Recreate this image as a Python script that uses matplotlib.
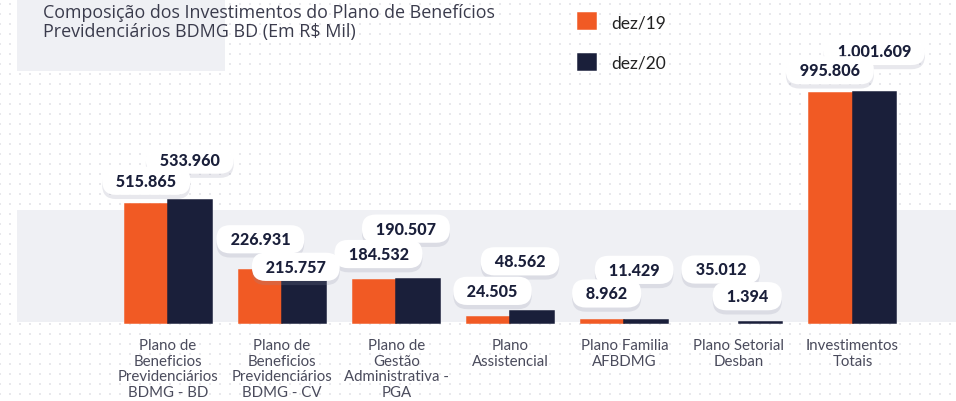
import numpy as np
import matplotlib
matplotlib.use("Agg")
import matplotlib.pyplot as plt
from matplotlib.patches import Rectangle
import matplotlib.patheffects as pe

# ---------------- data ----------------
categories = [
    "Plano de\nBeneficios\nPrevidenciários\nBDMG - BD",
    "Plano de\nBeneficios\nPrevidenciários\nBDMG - CV",
    "Plano de\nGestão\nAdministrativa -\nPGA",
    "Plano\nAssistencial",
    "Plano Familia\nAFBDMG",
    "Plano Setorial\nDesban",
    "Investimentos\nTotais",
]
series_names = ["dez/19", "dez/20"]
dez19 = [515865, 226931, 184532, 24505, 8962, 0, 995806]
dez20 = [533960, 215757, 190507, 48562, 11429, 1394, 1001609]
labels19 = ["515.865", "226.931", "184.532", "24.505", "8.962", "35.012", "995.806"]
labels20 = ["533.960", "215.757", "190.507", "48.562", "11.429", "1.394", "1.001.609"]

title = "Composição dos Investimentos do Plano de Benefícios\nPrevidenciários BDMG BD (Em R$ Mil)"

# ---------------- style ----------------
ORANGE = "#F15A24"
NAVY = "#1A1F3A"
BAND = "#EFF0F4"
W, H = 956, 402
x0_px, step_px = 168.0, 114.1
base_px, k_px = 323.5, 0.2302 / 1000.0   # pixels per unit value
bar_w = 43.5 / step_px

# label offsets (pixels) relative to bar top
off19 = [(0, 23), (0, 31), (4, 26), (4, 26), (4, 27), (4, 53), (-1, 23)]
off20 = [(0, 40), (-8, 6), (-12, 50), (-12, 50), (-12, 50), (-13, 26), (0, 41)]

fig = plt.figure(figsize=(W / 100, H / 100), dpi=100)
fig.patch.set_facecolor("white")

# background decorations in pixel coordinates
bg = fig.add_axes([0, 0, 1, 1])
bg.set_xlim(0, W)
bg.set_ylim(H, 0)
bg.axis("off")
gx, gy = np.meshgrid(np.arange(0, W, 10), np.arange(5, H, 10))
bg.scatter(gx.ravel(), gy.ravel(), s=1.4, marker="s", color="#E8E8EC", linewidths=0, zorder=1)
bg.add_patch(Rectangle((17, 211), W - 17, 112, color=BAND, zorder=2, lw=0))
bg.add_patch(Rectangle((17, 0), 208, 72, color=BAND, zorder=2, lw=0))
bg.text(43, 3.5, title, ha="left", va="top", fontsize=12.9, family="Open Sans",
        color="#3A3B4C", linespacing=1.12, zorder=3)

# main axes
ax = fig.add_axes([0, 0, 1, 1])
ax.patch.set_alpha(0)
ax.set_xlim(-x0_px / step_px, (W - x0_px) / step_px)
ax.set_ylim(-(H - base_px) / k_px, base_px / k_px)
for s in ax.spines.values():
    s.set_visible(False)
ax.spines["bottom"].set_position(("data", 0))
ax.set_yticks([])

x = np.arange(len(categories))
b1 = ax.bar(x - bar_w / 2, dez19, width=bar_w, color=ORANGE, edgecolor=ORANGE,
            linewidth=1.1, zorder=3, label=series_names[0])
b2 = ax.bar(x + bar_w / 2, dez20, width=bar_w, color=NAVY, edgecolor=NAVY,
            linewidth=1.1, zorder=3, label=series_names[1])
for b, v in zip(b1, dez19):
    if v == 0:
        b.set_linewidth(0)

ax.set_xticks(x)
ax.set_xticklabels(categories, fontsize=10.8, family="Lato", color="#4A4B5C")
for t in ax.get_xticklabels():
    t.set_linespacing(1.16)
ax.tick_params(axis="x", length=0, pad=11)


def put_labels(xs, vals, texts, offs):
    for xi, v, t, (dx, dy) in zip(xs, vals, texts, offs):
        up = v * k_px + dy
        a = ax.annotate("  " + t + "  ", xy=(xi, v), xytext=(dx, dy), textcoords="offset pixels",
                        ha="center", va="center", fontsize=11.6, fontweight="black",
                        family="Lato", color=NAVY, zorder=20 - up / 100.0,
                        bbox=dict(boxstyle="round,pad=0.38,rounding_size=0.85", fc="white", ec="none"))
        a.get_bbox_patch().set_path_effects([
            pe.SimplePatchShadow(offset=(0, -3), shadow_rgbFace=(0.55, 0.56, 0.65), alpha=0.2),
            pe.Normal()])


put_labels(x - bar_w / 2, dez19, labels19, off19)
put_labels(x + bar_w / 2, dez20, labels20, off20)

leg = ax.legend(handles=[b1, b2], labels=series_names, loc="upper left",
                bbox_to_anchor=(566 / W, 1 - 2 / H), bbox_transform=fig.transFigure,
                frameon=False, fontsize=12.5, handlelength=1.05, handleheight=1.05,
                labelspacing=1.35, handletextpad=0.85, borderpad=0.2)
for t in leg.get_texts():
    t.set_family("Lato")
    t.set_color("#222222")

fig.savefig("out.png", dpi=100, facecolor="white")
